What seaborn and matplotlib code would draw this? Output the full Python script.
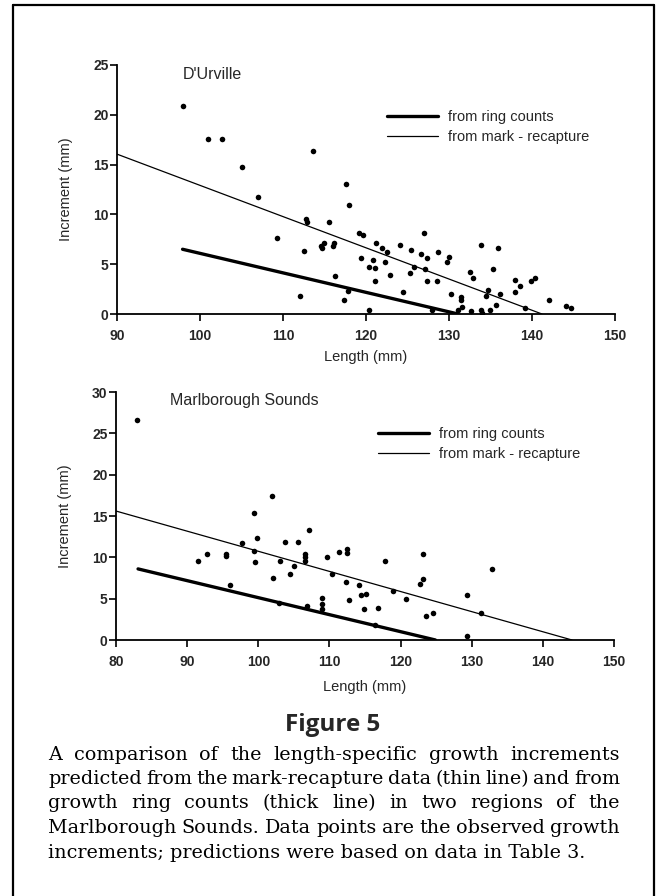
import matplotlib
matplotlib.use("Agg")
import matplotlib.pyplot as plt
import seaborn as sns
import pandas as pd
from matplotlib.lines import Line2D

# ---------------- data ----------------
durville_length = [97.9, 101.0, 102.6, 105.1, 107.0, 109.3, 113.6, 112.1, 112.5, 112.8,
                   112.9, 114.6, 114.9, 114.7, 115.6, 116.0, 116.2, 116.3, 117.3, 117.6,
                   118.0, 117.8, 119.1, 119.6, 119.4, 120.4, 121.1, 120.9, 120.4, 121.1,
                   121.2, 121.9, 122.5, 122.3, 122.9, 124.1, 124.4, 125.4, 125.3, 125.8,
                   126.6, 127.0, 127.3, 127.1, 127.3, 128.0, 128.5, 128.7, 130.0, 129.8,
                   130.3, 131.4, 131.4, 131.1, 131.6, 132.5, 132.9, 132.6, 133.9, 133.9,
                   134.0, 134.7, 134.5, 135.3, 134.9, 135.9, 136.1, 135.7, 138.0, 138.6,
                   138.0, 139.2, 139.9, 140.4, 142.0, 144.1, 144.7]
durville_increment = [20.9, 17.6, 17.6, 14.8, 11.7, 7.6, 16.4, 1.8, 6.3, 9.5,
                      9.2, 6.8, 7.1, 6.6, 9.2, 6.8, 7.1, 3.8, 1.4, 13.1,
                      10.9, 2.3, 8.1, 7.9, 5.6, 4.7, 4.6, 5.4, 0.4, 3.3,
                      7.1, 6.6, 6.2, 5.2, 3.9, 6.9, 2.2, 6.4, 4.1, 4.7,
                      6.0, 8.1, 5.6, 4.5, 3.3, 0.4, 3.3, 6.2, 5.7, 5.2,
                      2.0, 1.7, 1.4, 0.4, 0.7, 4.2, 3.6, 0.3, 6.9, 0.4,
                      0.1, 2.4, 1.8, 4.5, 0.4, 6.6, 2.0, 0.9, 3.4, 2.8,
                      2.2, 0.6, 3.3, 3.6, 1.4, 0.8, 0.6]
durville_ring_length = [97.9, 131.1]
durville_ring_increment = [6.5, 0.0]
durville_mr_length = [90.0, 141.2]
durville_mr_increment = [16.05, 0.0]

marl_length = [83.0, 91.5, 92.8, 95.5, 95.5, 96.0, 97.7, 99.4, 99.4, 99.6,
               99.8, 101.9, 102.1, 103.0, 103.8, 102.9, 104.5, 105.0, 105.6, 107.1,
               106.6, 106.6, 106.6, 106.9, 108.9, 108.9, 108.9, 109.6, 110.4, 111.3,
               112.5, 112.4, 112.3, 112.7, 114.2, 114.4, 115.1, 114.8, 116.8, 117.8,
               119.0, 120.7, 123.2, 123.2, 122.7, 123.6, 124.5, 129.3, 132.9, 131.3,
               129.3, 116.4]
marl_increment = [26.6, 9.5, 10.4, 10.4, 10.2, 6.6, 11.7, 15.4, 10.8, 9.4,
                  12.3, 17.4, 7.5, 9.5, 11.8, 4.5, 8.0, 8.9, 11.8, 13.3,
                  10.4, 10.0, 9.6, 4.1, 5.1, 4.4, 3.8, 10.0, 8.0, 10.6,
                  11.0, 10.5, 7.0, 4.8, 6.7, 5.4, 5.6, 3.7, 3.9, 9.5,
                  5.9, 4.9, 10.4, 7.4, 6.8, 2.9, 3.3, 5.4, 8.6, 3.3,
                  0.5, 1.8]
marl_ring_length = [83.1, 124.9]
marl_ring_increment = [8.6, 0.0]
marl_mr_length = [80.0, 144.1]
marl_mr_increment = [15.6, 0.0]

panel_titles = ["D'Urville", "Marlborough Sounds"]
legend_labels = ["from ring counts", "from mark - recapture"]
top_xticks = [90, 100, 110, 120, 130, 140, 150]
top_yticks = [0, 5, 10, 15, 20, 25]
bottom_xticks = [80, 90, 100, 110, 120, 130, 140, 150]
bottom_yticks = [0, 5, 10, 15, 20, 25, 30]
x_label = "Length (mm)"
y_label = "Increment (mm)"
fig_title = "Figure 5"
caption_lines = [
    "A comparison of the length-specific growth increments",
    "predicted from the mark-recapture data (thin line) and from",
    "growth ring counts (thick line) in two regions of the",
    "Marlborough Sounds. Data points are the observed growth",
    "increments; predictions were based on data in Table 3.",
]

# ---------------- style ----------------
sns.set_theme(style="ticks")
plt.rcParams["font.family"] = ["Liberation Sans", "DejaVu Sans"]
plt.rcParams["axes.edgecolor"] = "black"

W, H = 659, 896
fig = plt.figure(figsize=(W / 100, H / 100), dpi=100)
fig.patch.set_facecolor("white")


def fx(px):
    return px / W


def fy(py):
    return 1 - py / H


def panel(rect, length, inc, ring_x, ring_y, mr_x, mr_y, xlim, ylim, xticks, yticks,
          title, title_pos, leg_anchor, xlab_y):
    ax = fig.add_axes(rect)
    pts = pd.DataFrame({"Length": length, "Increment": inc})
    sns.scatterplot(data=pts, x="Length", y="Increment", ax=ax, color="black",
                    s=16, linewidth=0, legend=False, zorder=3)
    ring = pd.DataFrame({"Length": ring_x, "Increment": ring_y})
    mr = pd.DataFrame({"Length": mr_x, "Increment": mr_y})
    sns.lineplot(data=ring, x="Length", y="Increment", ax=ax, color="black",
                 linewidth=2.4, legend=False)
    sns.lineplot(data=mr, x="Length", y="Increment", ax=ax, color="black",
                 linewidth=0.9, legend=False)
    ax.set_xlim(*xlim)
    ax.set_ylim(*ylim)
    ax.set_xticks(xticks)
    ax.set_yticks(yticks)
    ax.set_xticklabels([str(t) for t in xticks], fontweight="bold", fontsize=10)
    ax.set_yticklabels([str(t) for t in yticks], fontweight="bold", fontsize=10)
    for s in ["top", "right"]:
        ax.spines[s].set_visible(False)
    for s in ["left", "bottom"]:
        ax.spines[s].set_linewidth(1.3)
        ax.spines[s].set_color("black")
    ax.tick_params(axis="both", direction="out", length=5, width=1.2, color="black")
    ax.tick_params(axis="x", pad=6)
    ax.tick_params(axis="y", pad=1)
    ax.set_facecolor("white")
    ax.set_xlabel(x_label, fontsize=10.5)
    ax.set_ylabel(y_label, fontsize=10.5)
    ax.xaxis.set_label_coords(0.5, xlab_y)
    ax.yaxis.set_label_coords(-0.088, 0.5)
    ax.text(title_pos[0], title_pos[1], title, transform=ax.transAxes,
            fontsize=11.5, ha="left", va="center")
    lines = ax.get_lines()
    ax.legend(lines[:2], legend_labels, loc="upper left", bbox_to_anchor=leg_anchor,
              frameon=False, fontsize=10.5, handlelength=3.5, handletextpad=0.7,
              borderpad=0, borderaxespad=0, labelspacing=0.45)
    return ax


ax1 = panel([fx(117), fy(314), 498 / W, 249 / H], durville_length, durville_increment,
            durville_ring_length, durville_ring_increment,
            durville_mr_length, durville_mr_increment,
            (90, 150), (0, 25), top_xticks, top_yticks,
            panel_titles[0], (0.1325, 0.96), (0.542, 0.82), -0.145)
ax2 = panel([fx(116), fy(640), 498 / W, 248 / H], marl_length, marl_increment,
            marl_ring_length, marl_ring_increment,
            marl_mr_length, marl_mr_increment,
            (80, 150), (0, 30), bottom_xticks, bottom_yticks,
            panel_titles[1], (0.108, 0.965), (0.526, 0.86), -0.16)

# ---------------- caption ----------------
fig.text(fx(333), fy(725), fig_title, ha="center", va="center",
         fontsize=17.5, fontweight="bold", family=["Open Sans", "DejaVu Sans"])

renderer = fig.canvas.get_renderer()
cap_kw = dict(family=["DejaVu Serif"], va="center", ha="left", color="black")
x0, x1 = 48, 620
# size the serif text so the last (natural) line matches the reference width
probe = fig.text(0, 0, caption_lines[-1], fontsize=10, **cap_kw)
w10 = probe.get_window_extent(renderer).width
probe.remove()
cap_size = 10 * 535 / w10
cap_kw["fontsize"] = cap_size
line_ys = [755, 779, 803, 828, 853]
for i, (line, y) in enumerate(zip(caption_lines, line_ys)):
    if i == len(caption_lines) - 1:
        fig.text(fx(x0), fy(y), line, **cap_kw)
        continue
    words = line.split()
    ts = [fig.text(0, fy(y), w, **cap_kw) for w in words]
    widths = [t.get_window_extent(renderer).width for t in ts]
    gap = (x1 - x0 - sum(widths)) / (len(words) - 1)
    x = x0
    for t, w in zip(ts, widths):
        t.set_x(fx(x))
        x += w + gap

# ---------------- frame ----------------
frame = [((13, 5), (654, 5)), ((13, 5), (13, 896)), ((654, 5), (654, 896))]
for (a, b) in frame:
    fig.add_artist(Line2D([fx(a[0]), fx(b[0])], [fy(a[1]), fy(b[1])],
                          color="black", linewidth=1.6, transform=fig.transFigure))

fig.savefig("out.png", dpi=100, facecolor="white")
